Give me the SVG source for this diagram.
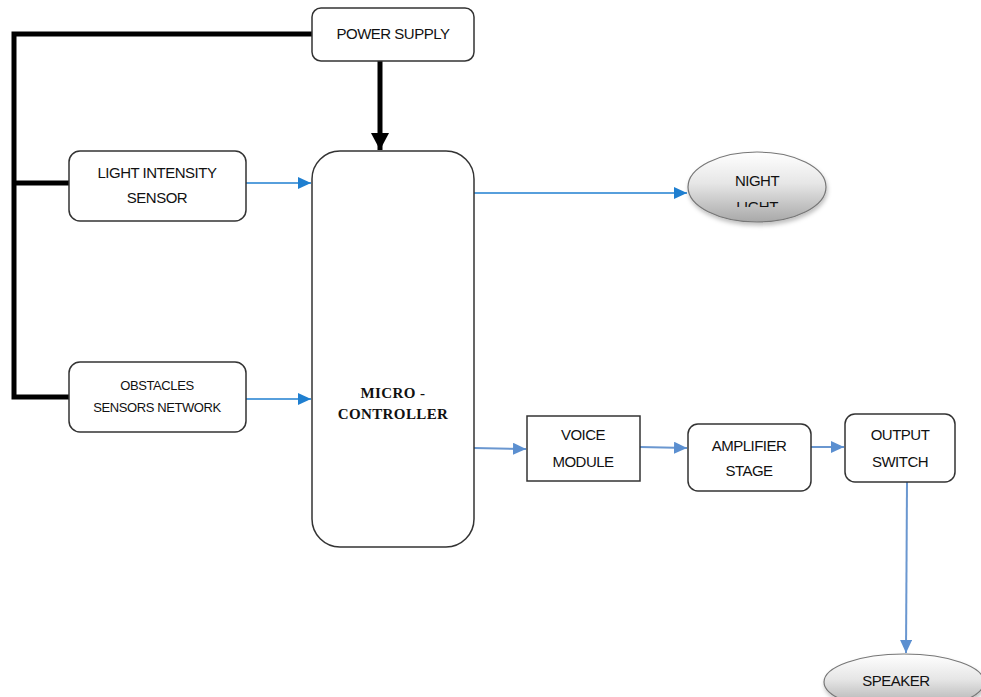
<svg xmlns="http://www.w3.org/2000/svg" width="981" height="697" viewBox="0 0 981 697">
<style>
.box{fill:#fff;stroke:#333;stroke-width:1.5}
.t{font-family:"Liberation Sans",Arial,sans-serif;font-size:15px;fill:#111;text-anchor:middle;letter-spacing:-0.5px}
.ts{font-size:13px;letter-spacing:-0.4px}
.mc{font-family:"Liberation Serif","Times New Roman",serif;font-weight:bold;font-size:15px;fill:#111;text-anchor:middle;letter-spacing:0.4px}
.pw{fill:none;stroke:#000;stroke-width:5}
.b1{fill:none;stroke:#1f7fd0;stroke-width:1.5}
.b2{fill:none;stroke:#6a97d0;stroke-width:2}
.ell{fill:url(#g);stroke:#777;stroke-width:1.2}
</style>
<defs>
<linearGradient id="g" x1="0" y1="0" x2="0" y2="1">
<stop offset="0" stop-color="#ffffff"/>
<stop offset="0.45" stop-color="#e6e6e6"/>
<stop offset="1" stop-color="#a8a8a8"/>
</linearGradient>
<filter id="sh" x="-20%" y="-20%" width="140%" height="150%">
<feDropShadow dx="1" dy="3" stdDeviation="2" flood-color="#000" flood-opacity="0.25"/>
</filter>
<marker id="a1" viewBox="0 0 10 10" refX="10" refY="5" markerWidth="13" markerHeight="12" orient="auto" markerUnits="userSpaceOnUse" preserveAspectRatio="none">
<path d="M0,0L10,5L0,10z" fill="#1f7fd0"/>
</marker>
<marker id="a2" viewBox="0 0 10 10" refX="10" refY="5" markerWidth="13" markerHeight="12" orient="auto" markerUnits="userSpaceOnUse" preserveAspectRatio="none">
<path d="M0,0L10,5L0,10z" fill="#5b8fd0"/>
</marker>
<marker id="ak" viewBox="0 0 10 10" refX="10" refY="5" markerWidth="17" markerHeight="18" orient="auto" markerUnits="userSpaceOnUse" preserveAspectRatio="none">
<path d="M0,0L10,5L0,10z" fill="#000"/>
</marker>
<clipPath id="clipNL"><rect x="680" y="150" width="160" height="57"/></clipPath>
</defs>
<g id="connectors">
<path class="pw" d="M312,34H14V397H69"/>
<path class="pw" d="M14,183H69"/>
<path class="pw" d="M380,61V150" marker-end="url(#ak)"/>
<path class="b1" d="M246,183H311" marker-end="url(#a1)"/>
<path class="b1" d="M246,399H311" marker-end="url(#a1)"/>
<path class="b1" d="M474,193H687" marker-end="url(#a1)"/>
<path class="b2" d="M474,448L526,449" marker-end="url(#a2)"/>
<path class="b2" d="M640,447L687,448" marker-end="url(#a2)"/>
<path class="b2" d="M811,447H844" marker-end="url(#a2)"/>
<path class="b2" d="M907,482L906,653" marker-end="url(#a2)"/>
</g>
<g id="power-supply">
<rect class="box" x="312" y="8" width="162" height="53" rx="9"/>
<text class="t" x="393" y="39">POWER SUPPLY</text>
</g>
<g id="light-sensor">
<rect class="box" x="69" y="151" width="177" height="70" rx="11"/>
<text class="t" x="157" y="178">LIGHT INTENSITY</text>
<text class="t" x="157" y="203">SENSOR</text>
</g>
<g id="obstacles">
<rect class="box" x="69" y="362" width="177" height="70" rx="11"/>
<text class="t ts" x="157" y="390">OBSTACLES</text>
<text class="t ts" x="157" y="412">SENSORS NETWORK</text>
</g>
<g id="microcontroller">
<rect class="box" x="312" y="151" width="162" height="396" rx="28"/>
<text class="mc" x="393" y="398">MICRO -</text>
<text class="mc" x="393" y="419">CONTROLLER</text>
</g>
<g id="night-light">
<ellipse class="ell" cx="757" cy="187" rx="69" ry="35" filter="url(#sh)"/>
<text class="t" x="757" y="186">NIGHT</text>
<text class="t" x="757" y="212" clip-path="url(#clipNL)">LIGHT</text>
</g>
<g id="voice-module">
<rect class="box" x="527" y="416" width="113" height="65"/>
<text class="t" x="583" y="440">VOICE</text>
<text class="t" x="583" y="467">MODULE</text>
</g>
<g id="amplifier">
<rect class="box" x="688" y="424" width="123" height="67" rx="10"/>
<text class="t" x="749" y="451">AMPLIFIER</text>
<text class="t" x="749" y="476">STAGE</text>
</g>
<g id="output-switch">
<rect class="box" x="845" y="414" width="110" height="68" rx="10"/>
<text class="t" x="900" y="440">OUTPUT</text>
<text class="t" x="900" y="467">SWITCH</text>
</g>
<g id="speaker">
<ellipse class="ell" cx="904" cy="682" rx="80" ry="28" filter="url(#sh)"/>
<text class="t" x="896" y="686">SPEAKER</text>
</g>
</svg>
